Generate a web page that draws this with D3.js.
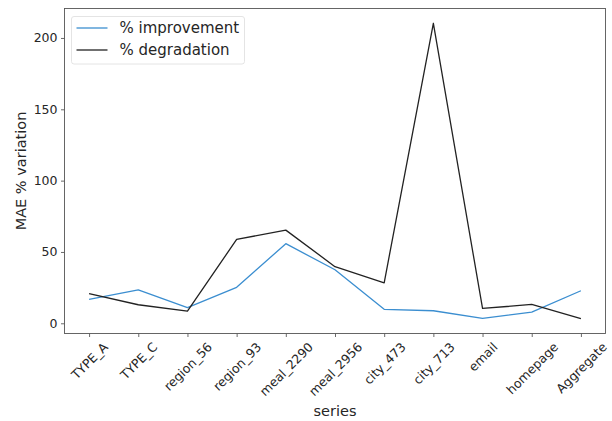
<!DOCTYPE html>
<html>
<head>
<meta charset="utf-8">
<script src="https://cdn.jsdelivr.net/npm/d3@7"></script>
<style>
  html, body { margin: 0; padding: 0; background: #fff; }
  svg { display: block; font-family: "DejaVu Sans", sans-serif; }
</style>
</head>
<body>
<svg id="chart" width="612" height="421"></svg>
<script>
// Series categories along the x axis
const categories = ["TYPE_A", "TYPE_C", "region_56", "region_93", "meal_2290", "meal_2956",
                    "city_473", "city_713", "email", "homepage", "Aggregate"];
// MAE % improvement per series
const improvement = [16.8, 23.4, 11.0, 25.2, 55.8, 37.5, 9.8, 8.8, 3.4, 7.8, 22.8];
// MAE % degradation per series
const degradation = [20.8, 13.0, 8.5, 58.8, 65.3, 39.7, 28.4, 210.3, 10.4, 13.2, 3.2];
// Y axis tick values
const yTicks = [0, 50, 100, 150, 200];
const seriesNames = ["% improvement", "% degradation"];
const seriesColors = ["#3b8ed0", "#222222"];

const svg = d3.select("#chart");
const plot = { left: 64.5, right: 605.5, top: 8.5, bottom: 333.5 };

const allVals = improvement.concat(degradation);
const yMin = d3.min(allVals), yMax = d3.max(allVals);
const pad = (yMax - yMin) * 0.05;

const x = d3.scalePoint().domain(categories).range([plot.left, plot.right]).padding(0.5);
const y = d3.scaleLinear().domain([yMin - pad, yMax + pad]).range([plot.bottom, plot.top]);

// Axes
const xAxis = svg.append("g")
  .attr("transform", `translate(0,${plot.bottom})`)
  .call(d3.axisBottom(x).tickSize(3.5).tickSizeOuter(0).tickFormat(""));
const yAxis = svg.append("g")
  .attr("transform", `translate(${plot.left},0)`)
  .call(d3.axisLeft(y).tickValues(yTicks).tickSize(3.5).tickSizeOuter(0).tickFormat(d3.format("d")));

[xAxis, yAxis].forEach(g => {
  g.select(".domain").remove();
  g.selectAll(".tick line").attr("stroke", "#444").attr("stroke-width", 0.8);
});
yAxis.selectAll(".tick text")
  .attr("x", -7)
  .attr("font-size", 12.5)
  .attr("font-family", "DejaVu Sans")
  .attr("fill", "#262626");

// Rotated category labels: bounding box centered under each tick
const fs = 12.5;
const labelTop = plot.bottom + 6;
xAxis.selectAll(".tick").each(function(d) {
  const g = d3.select(this);
  const t = g.append("text")
    .attr("font-size", fs)
    .attr("font-family", "DejaVu Sans")
    .attr("fill", "#262626")
    .attr("text-anchor", "middle")
    .attr("dominant-baseline", "central")
    .text(d);
  const w = t.node().getComputedTextLength();
  const h = fs * 1.17;
  const half = (w + h) / Math.SQRT2 / 2;
  const cy = labelTop - plot.bottom + half;
  t.attr("transform", `translate(0,${cy}) rotate(-45)`);
});

// Plot frame
svg.append("rect")
  .attr("x", plot.left).attr("y", plot.top)
  .attr("width", plot.right - plot.left).attr("height", plot.bottom - plot.top)
  .attr("fill", "none").attr("stroke", "#555").attr("stroke-width", 0.9);

// Lines
const line = d3.line().x((d, i) => x(categories[i])).y(d => y(d));
[improvement, degradation].forEach((vals, k) => {
  svg.append("path")
    .datum(vals)
    .attr("d", line)
    .attr("fill", "none")
    .attr("stroke", seriesColors[k])
    .attr("stroke-width", 1.3)
    .attr("stroke-linejoin", "round");
});

// Axis titles
svg.append("text")
  .attr("x", (plot.left + plot.right) / 2).attr("y", 416)
  .attr("text-anchor", "middle")
  .attr("font-size", 14.5).attr("fill", "#262626")
  .text("series");
svg.append("text")
  .attr("transform", `translate(26,${(plot.top + plot.bottom) / 2}) rotate(-90)`)
  .attr("text-anchor", "middle")
  .attr("font-size", 14.5).attr("fill", "#262626")
  .text("MAE % variation");

// Legend
const leg = svg.append("g");
leg.append("rect")
  .attr("x", 71.5).attr("y", 16.5).attr("width", 173).attr("height", 47.5)
  .attr("rx", 2.5).attr("fill", "#fff").attr("fill-opacity", 0.8)
  .attr("stroke", "#ddd").attr("stroke-width", 0.8);
seriesNames.forEach((name, k) => {
  const cy = 28 + k * 22;
  leg.append("line")
    .attr("x1", 76.5).attr("x2", 107.5).attr("y1", cy).attr("y2", cy)
    .attr("stroke", seriesColors[k]).attr("stroke-width", 1.3);
  leg.append("text")
    .attr("x", 119.5).attr("y", cy)
    .attr("dominant-baseline", "central")
    .attr("font-size", 15).attr("fill", "#262626")
    .text(name);
});
</script>
</body>
</html>
